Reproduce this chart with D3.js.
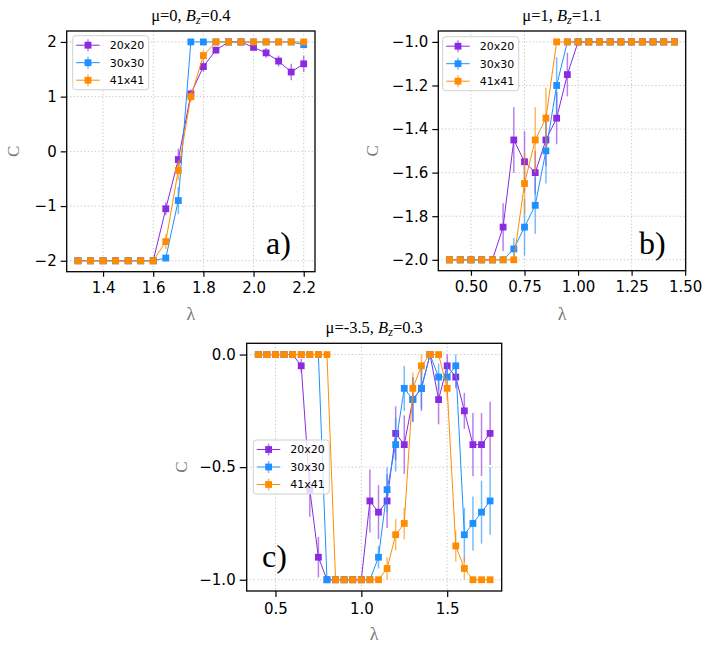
<!DOCTYPE html>
<html>
<head>
<meta charset="utf-8">
<script src="https://cdn.jsdelivr.net/npm/d3@7"></script>
<style>
  body { margin: 0; background: #fff; }
</style>
</head>
<body>
<div id="chart"></div>
<script>
const W = 706
const H = 651

const seriesNames = ['20x20', '30x30', '41x41']
const colors = ['#8a2be2', '#1e90ff', '#ff8c00']

// panel a) mu=0, Bz=0.4
const lamA = [1.3, 1.35, 1.4, 1.45, 1.5, 1.55, 1.6, 1.65, 1.7, 1.75, 1.8, 1.85, 1.9, 1.95, 2.0, 2.05, 2.1, 2.15, 2.2]
const a20 = [-2, -2, -2, -2, -2, -2, -2, -1.05, -0.15, 1.05, 1.55, 1.85, 2, 2, 1.9, 1.8, 1.65, 1.45, 1.6]
const a20err = [0, 0, 0, 0, 0, 0, 0, 0.12, 0.2, 0.08, 0.1, 0.04, 0, 0, 0.04, 0.09, 0.1, 0.15, 0.15]
const a30 = [-2, -2, -2, -2, -2, -2, -2, -1.95, -0.9, 2, 2, 2, 2, 2, 2, 2, 2, 2, 1.95]
const a30err = [0, 0, 0, 0, 0, 0, 0, 0.04, 0.25, 0, 0, 0, 0, 0, 0, 0, 0, 0, 0.04]
const a41 = [-2, -2, -2, -2, -2, -2, -2, -1.65, -0.35, 1.0, 1.75, 2, 2, 2, 2, 2, 2, 2, 2]
const a41err = [0, 0, 0, 0, 0, 0, 0, 0.14, 0.18, 0.1, 0.1, 0, 0, 0, 0, 0, 0, 0, 0]
const xTicksA = [1.4, 1.6, 1.8, 2.0, 2.2]
const yTicksA = [-2, -1, 0, 1, 2]

// panel b) mu=1, Bz=1.1
const lamB = [0.4, 0.45, 0.5, 0.55, 0.6, 0.65, 0.7, 0.75, 0.8, 0.85, 0.9, 0.95, 1.0, 1.05, 1.1, 1.15, 1.2, 1.25, 1.3, 1.35, 1.4, 1.45]
const b20 = [-2, -2, -2, -2, -2, -1.85, -1.45, -1.55, -1.6, -1.45, -1.35, -1.15, -1, -1, -1, -1, -1, -1, -1, -1, -1, -1]
const b20err = [0, 0, 0, 0, 0, 0.11, 0.15, 0.14, 0.1, 0.12, 0.12, 0.1, 0, 0, 0, 0, 0, 0, 0, 0, 0, 0]
const b30 = [-2, -2, -2, -2, -2, -2, -1.95, -1.85, -1.75, -1.5, -1.2, -1, -1, -1, -1, -1, -1, -1, -1, -1, -1, -1]
const b30err = [0, 0, 0, 0, 0, 0, 0.05, 0.13, 0.13, 0.15, 0.13, 0, 0, 0, 0, 0, 0, 0, 0, 0, 0, 0]
const b41 = [-2, -2, -2, -2, -2, -2, -2, -1.65, -1.45, -1.35, -1, -1, -1, -1, -1, -1, -1, -1, -1, -1, -1, -1]
const b41err = [0, 0, 0, 0, 0, 0, 0, 0.14, 0.15, 0.14, 0, 0, 0, 0, 0, 0, 0, 0, 0, 0, 0, 0]
const xTicksB = [0.5, 0.75, 1.0, 1.25, 1.5]
const yTicksB = [-2.0, -1.8, -1.6, -1.4, -1.2, -1.0]

// panel c) mu=-3.5, Bz=0.3
const lamC = [0.4, 0.45, 0.5, 0.55, 0.6, 0.65, 0.7, 0.75, 0.8, 0.85, 0.9, 0.95, 1.0, 1.05, 1.1, 1.15, 1.2, 1.25, 1.3, 1.35, 1.4, 1.45, 1.5, 1.55, 1.6, 1.65, 1.7, 1.75]
const c20 = [0, 0, 0, 0, 0, -0.05, -0.6, -0.9, -1, -1, -1, -1, -1, -0.65, -0.7, -0.65, -0.35, -0.4, -0.2, -0.15, 0, -0.2, -0.05, -0.1, -0.25, -0.4, -0.4, -0.35]
const c20err = [0, 0, 0, 0, 0, 0.03, 0.12, 0.09, 0, 0, 0, 0, 0, 0.14, 0.12, 0.12, 0.12, 0.13, 0.1, 0.1, 0, 0.11, 0.05, 0.05, 0.08, 0.14, 0.14, 0.14]
const c30 = [0, 0, 0, 0, 0, 0, 0, 0, -1, -1, -1, -1, -1, -1, -0.9, -0.6, -0.4, -0.15, -0.2, -0.15, 0, -0.1, -0.1, -0.05, -0.8, -0.75, -0.7, -0.65]
const c30err = [0, 0, 0, 0, 0, 0, 0, 0, 0, 0, 0, 0, 0, 0, 0.05, 0.1, 0.12, 0.1, 0.1, 0.09, 0, 0.06, 0.06, 0.05, 0.12, 0.12, 0.14, 0.15]
const c41 = [0, 0, 0, 0, 0, 0, 0, 0, 0, -1, -1, -1, -1, -1, -1, -0.95, -0.8, -0.75, -0.15, -0.05, 0, 0, -0.15, -0.85, -0.95, -1, -1, -1]
const c41err = [0, 0, 0, 0, 0, 0, 0, 0, 0, 0, 0, 0, 0, 0, 0, 0.05, 0.07, 0.07, 0.07, 0.05, 0, 0, 0.05, 0.07, 0.05, 0, 0, 0]
const xTicksC = [0.5, 1.0, 1.5]
const yTicksC = [-1.0, -0.5, 0.0]

const panels = [
  {
    lam: lamA, values: [a20, a30, a41], errs: [a20err, a30err, a41err],
    xDomain: [1.255, 2.245], yDomain: [-2.2, 2.2],
    xTicks: xTicksA, yTicks: yTicksA, xFmt: '.1f', yFmt: 'd',
    box: { left: 66.7, right: 315, top: 31, bottom: 271.7 },
    mu: '0', bz: '0.4', tag: 'a)', tagPos: [266, 254],
    yLabelX: 13, xLabelY: 320, legend: [72.7, 35.7], tickLen: 6
  },
  {
    lam: lamB, values: [b20, b30, b41], errs: [b20err, b30err, b41err],
    xDomain: [0.3475, 1.5025], yDomain: [-2.05, -0.95],
    xTicks: xTicksB, yTicks: yTicksB, xFmt: '.2f', yFmt: '.1f',
    box: { left: 438.3, right: 685.7, top: 31, bottom: 270.7 },
    mu: '1', bz: '1.1', tag: 'b)', tagPos: [639, 254],
    yLabelX: 372, xLabelY: 320, legend: [442.7, 36.7], tickLen: 6
  },
  {
    lam: lamC, values: [c20, c30, c41], errs: [c20err, c30err, c41err],
    xDomain: [0.3325, 1.8175], yDomain: [-1.05, 0.05],
    xTicks: xTicksC, yTicks: yTicksC, xFmt: '.1f', yFmt: '.1f',
    box: { left: 246.7, right: 501.7, top: 343.3, bottom: 591 },
    mu: '-3.5', bz: '0.3', tag: 'c)', tagPos: [262, 567],
    yLabelX: 181, xLabelY: 640, legend: [253.3, 440], tickLen: 7
  }
]

const svg = d3
  .select('#chart')
  .append('svg')
  .attr('width', W)
  .attr('height', H)
  .style('font-family', "'DejaVu Sans', sans-serif")

const serif = "'Liberation Serif', 'Times New Roman', serif"

function drawPanel(p, idx) {
  const b = p.box
  const x = d3.scaleLinear().domain(p.xDomain).range([b.left, b.right])
  const y = d3.scaleLinear().domain(p.yDomain).range([b.bottom, b.top])
  const g = svg.append('g').attr('class', 'panel-' + idx)

  // dotted grid
  g.selectAll('.gridx')
    .data(p.xTicks)
    .enter()
    .append('line')
    .attr('x1', d => x(d))
    .attr('x2', d => x(d))
    .attr('y1', b.top)
    .attr('y2', b.bottom)
    .attr('stroke', '#c8c8c8')
    .attr('stroke-width', 1)
    .attr('stroke-dasharray', '1.3,2.2')
  g.selectAll('.gridy')
    .data(p.yTicks)
    .enter()
    .append('line')
    .attr('x1', b.left)
    .attr('x2', b.right)
    .attr('y1', d => y(d))
    .attr('y2', d => y(d))
    .attr('stroke', '#c8c8c8')
    .attr('stroke-width', 1)
    .attr('stroke-dasharray', '1.3,2.2')

  const line = d3.line().x(d => x(d.l)).y(d => y(d.c))

  p.values.forEach((vals, i) => {
    const pts = p.lam.map((l, j) => ({ l: l, c: vals[j], e: p.errs[i][j] }))
    const sg = g.append('g')

    sg.selectAll('.err')
      .data(pts.filter(d => d.e > 0))
      .enter()
      .append('line')
      .attr('x1', d => x(d.l))
      .attr('x2', d => x(d.l))
      .attr('y1', d => y(d.c - d.e))
      .attr('y2', d => y(d.c + d.e))
      .attr('stroke', colors[i])
      .attr('stroke-width', 1.5)
      .attr('stroke-opacity', 0.6)

    sg.append('path')
      .datum(pts)
      .attr('d', line)
      .attr('fill', 'none')
      .attr('stroke', colors[i])
      .attr('stroke-width', 1)

    sg.selectAll('.mk')
      .data(pts)
      .enter()
      .append('rect')
      .attr('x', d => x(d.l) - 3.4)
      .attr('y', d => y(d.c) - 3.4)
      .attr('width', 6.8)
      .attr('height', 6.8)
      .attr('fill', colors[i])
  })

  // frame
  g.append('rect')
    .attr('x', b.left)
    .attr('y', b.top)
    .attr('width', b.right - b.left)
    .attr('height', b.bottom - b.top)
    .attr('fill', 'none')
    .attr('stroke', '#000')
    .attr('stroke-width', 1.3)

  const xAxis = g.append('g')
    .attr('transform', `translate(0,${b.bottom})`)
    .call(d3.axisBottom(x).tickValues(p.xTicks).tickFormat(d3.format(p.xFmt)).tickSize(p.tickLen - 1).tickPadding(6))
  const yAxis = g.append('g')
    .attr('transform', `translate(${b.left},0)`)
    .call(d3.axisLeft(y).tickValues(p.yTicks).tickFormat(d3.format(p.yFmt)).tickSize(p.tickLen).tickPadding(4))
  ;[xAxis, yAxis].forEach(ax => {
    ax.select('.domain').remove()
    ax.selectAll('line').attr('stroke', '#000').attr('stroke-width', 1.2)
    ax.selectAll('text')
      .attr('fill', '#000')
      .style('font-size', '15px')
      .style('font-family', "'DejaVu Sans', sans-serif")
  })

  // title
  const cx = (b.left + b.right) / 2
  const title = g.append('text')
    .attr('x', cx)
    .attr('y', b.top - 10)
    .attr('text-anchor', 'middle')
    .style('font-family', serif)
    .style('font-size', '16.5px')
  title.append('tspan').text('\u03bc=' + p.mu + ', ')
  title.append('tspan').text('B').style('font-style', 'italic')
  title.append('tspan').text('z').style('font-style', 'italic').style('font-size', '12px').attr('dy', 3)
  title.append('tspan').text('=' + p.bz).attr('dy', -3)

  // axis labels
  g.append('text')
    .attr('x', cx)
    .attr('y', p.xLabelY)
    .attr('text-anchor', 'middle')
    .style('font-family', serif)
    .style('font-size', '18px')
    .attr('fill', '#777')
    .text('\u03bb')
  g.append('text')
    .attr('transform', `translate(${p.yLabelX},${(b.top + b.bottom) / 2}) rotate(-90)`)
    .attr('text-anchor', 'middle')
    .attr('dy', '0.35em')
    .style('font-family', serif)
    .style('font-size', '17px')
    .attr('fill', '#777')
    .text('C')

  // panel tag
  g.append('text')
    .attr('x', p.tagPos[0])
    .attr('y', p.tagPos[1])
    .style('font-family', serif)
    .style('font-size', '32px')
    .attr('fill', '#000')
    .text(p.tag)

  // legend
  const [lx, ly] = p.legend
  const lg = g.append('g').attr('transform', `translate(${lx},${ly})`)
  lg.append('rect')
    .attr('width', 76)
    .attr('height', 54)
    .attr('rx', 3)
    .attr('fill', '#fff')
    .attr('fill-opacity', 0.8)
    .attr('stroke', '#d0d0d0')
    .attr('stroke-width', 1)
  seriesNames.forEach((name, i) => {
    const ry = 9.5 + i * 17.5
    lg.append('line')
      .attr('x1', 3.5).attr('x2', 27)
      .attr('y1', ry).attr('y2', ry)
      .attr('stroke', colors[i]).attr('stroke-width', 1)
    lg.append('line')
      .attr('x1', 15.3).attr('x2', 15.3)
      .attr('y1', ry - 6).attr('y2', ry + 6)
      .attr('stroke', colors[i]).attr('stroke-width', 1.5).attr('stroke-opacity', 0.6)
    lg.append('rect')
      .attr('x', 15.3 - 3.4).attr('y', ry - 3.4)
      .attr('width', 6.8).attr('height', 6.8)
      .attr('fill', colors[i])
    lg.append('text')
      .attr('x', 37)
      .attr('y', ry)
      .attr('dy', '0.35em')
      .style('font-size', '11px')
      .attr('fill', '#000')
      .text(name)
  })
}

panels.forEach(drawPanel)
</script>
</body>
</html>
